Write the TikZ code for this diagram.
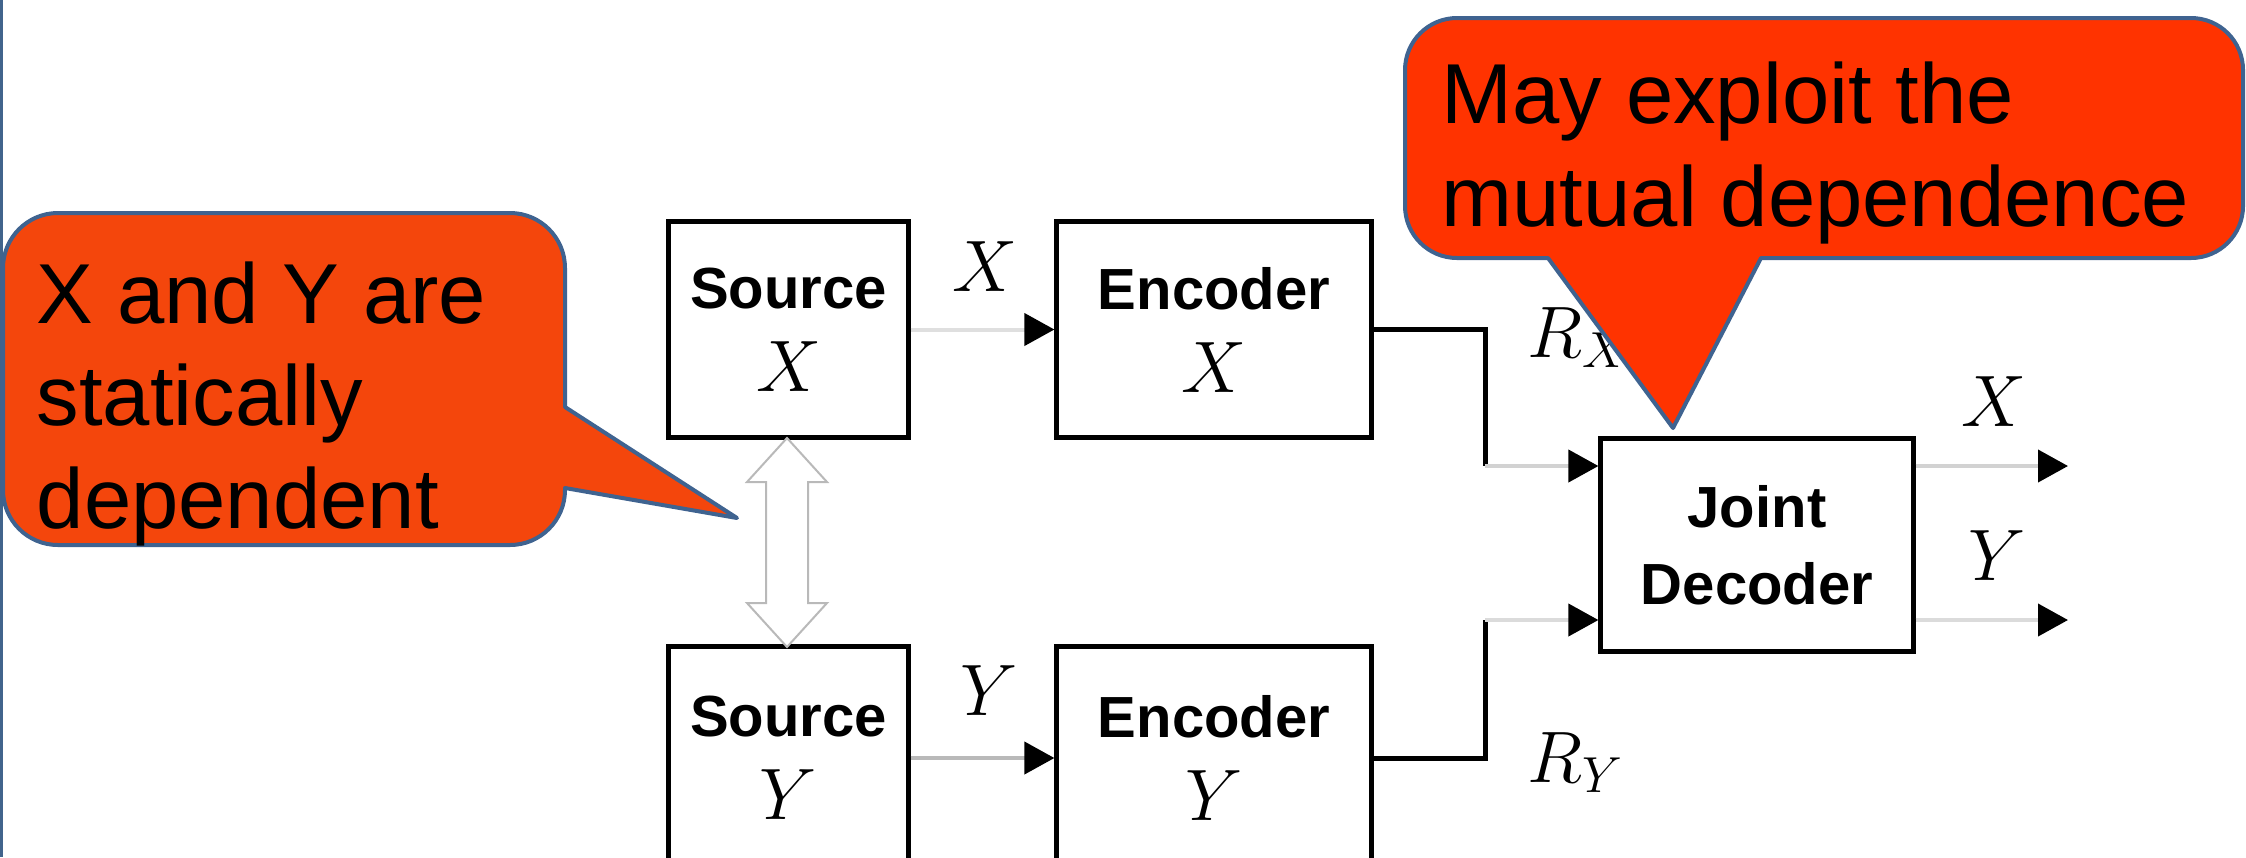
\documentclass[tikz,border=0pt]{standalone}
\usepackage{fontspec}
\setmainfont{Liberation Sans}
\usetikzlibrary{arrows.meta}
\definecolor{cbord}{HTML}{3F6390}
\definecolor{cfillA}{HTML}{F4460C}
\definecolor{cfillB}{HTML}{FF3300}
\definecolor{slideline}{HTML}{41648C}
\begin{document}
\begin{tikzpicture}[x=0.01cm,y=-0.01cm,
  box/.style={draw=black, line width=0.05cm, fill=white, align=center, inner sep=0pt,
    font=\fontsize{16.5pt}{23.6pt}\selectfont\bfseries},
  mtxt/.style={inner sep=0pt, font=\fontsize{20.74pt}{24pt}\selectfont},
  ctext/.style={anchor=base west, inner sep=0pt, font=\fontsize{24.2pt}{29pt}\selectfont},
  wire/.style={draw=black, line width=0.05cm},
  arr/.style={-{Triangle[length=0.3cm,width=0.32cm,color=black]}},
  shaft/.style={arr, line width=0.04cm, draw=#1},
  callout/.style={draw=cbord, line width=0.04cm, line join=round}]
\useasboundingbox (0,0) rectangle (2246,857);
\clip (0,0) rectangle (2246,857);
% slide border line
\draw[slideline, line width=0.03cm] (1.5,0) -- (1.5,857);
% blocks
\node[box, minimum width=2.39cm, minimum height=2.15cm] (sx) at (788.5,329.5)
  {Source\\{\fontsize{20.74pt}{23.6pt}\selectfont$X$}};
\node[box, minimum width=3.14cm, minimum height=2.15cm] (ex) at (1214,329.5)
  {Encoder\\{\fontsize{20.74pt}{23.6pt}\selectfont$X$}};
\node[box, minimum width=2.39cm, minimum height=2.22cm] (sy) at (788.5,758)
  {Source\\{\fontsize{20.74pt}{23.6pt}\selectfont$Y$}};
\node[box, minimum width=3.14cm, minimum height=2.22cm] (ey) at (1214,758)
  {Encoder\\{\fontsize{20.74pt}{23.6pt}\selectfont$Y$}};
\node[box, minimum width=3.12cm, minimum height=2.12cm,
  font=\fontsize{16.5pt}{21.9pt}\selectfont\bfseries] (jd) at (1757,545) {Joint\\Decoder};
% connectors
\coordinate (kx) at (1485,466);
\coordinate (ky) at (1485,620);
\coordinate (ox) at (2068,466);
\coordinate (oy) at (2068,620);
\draw[shaft=gray!25] (sx.east) -- (ex.west);
\draw[shaft=gray!55] (sy.east) -- (ey.west);
\draw[wire] (ex.east) -| (kx);
\draw[shaft=gray!35] (kx) -- (kx -| jd.west);
\draw[wire] (ey.east) -| (ky);
\draw[shaft=gray!28] (ky) -- (ky -| jd.west);
\draw[shaft=gray!35] (jd.east |- ox) -- (ox);
\draw[shaft=gray!28] (jd.east |- oy) -- (oy);
% dependence double arrow
\coordinate (dt) at (787,438);
\coordinate (db) at (787,647);
\draw[gray!55, line width=0.02cm, fill=white] (dt) -- ++(40,44) -- ++(-19,0) -- (808,603)
  -- ++(19,0) -- (db) -- ++(-40,-44) -- ++(19,0) -- (766,482) -- ++(-19,0) -- cycle;
% labels
\node[mtxt] (lx1) at (985,267) {$X$};
\node[mtxt] (ly1) at (989,691) {$Y$};
\node[mtxt, anchor=base west] (lrx) at (1527,357) {$R_X$};
\node[mtxt, anchor=base west] (lry) at (1527,782) {$R_Y$};
\node[mtxt] (lx2) at (1994,402) {$X$};
\node[mtxt] (ly2) at (1997,556) {$Y$};
% callout 1
\path[callout, fill=cfillA]
  (58,213) -- (510,213) arc[start angle=270, end angle=360, radius=55]
  -- (565,407) -- (737,518) -- (565,488)
  -- (565,490) arc[start angle=0, end angle=90, radius=55]
  -- (58,545) arc[start angle=90, end angle=180, radius=55]
  -- (3,268) arc[start angle=180, end angle=270, radius=55] -- cycle;
\node[ctext] (t1a) at (36,323) {X and Y are};
\node[ctext] (t1b) at (36,425) {statically};
\node[ctext] (t1c) at (36,528) {dependent};
% callout 2
\path[callout, fill=cfillB]
  (1457,18) -- (2191,18) arc[start angle=270, end angle=360, radius=52]
  -- (2243,206) arc[start angle=0, end angle=90, radius=52]
  -- (1761,258) -- (1673,428) -- (1548,258)
  -- (1457,258) arc[start angle=90, end angle=180, radius=52]
  -- (1405,70) arc[start angle=180, end angle=270, radius=52] -- cycle;
\node[ctext] (t2a) at (1441,123) {May exploit the};
\node[ctext] (t2b) at (1441,226) {mutual dependence};
\end{tikzpicture}
\end{document}
